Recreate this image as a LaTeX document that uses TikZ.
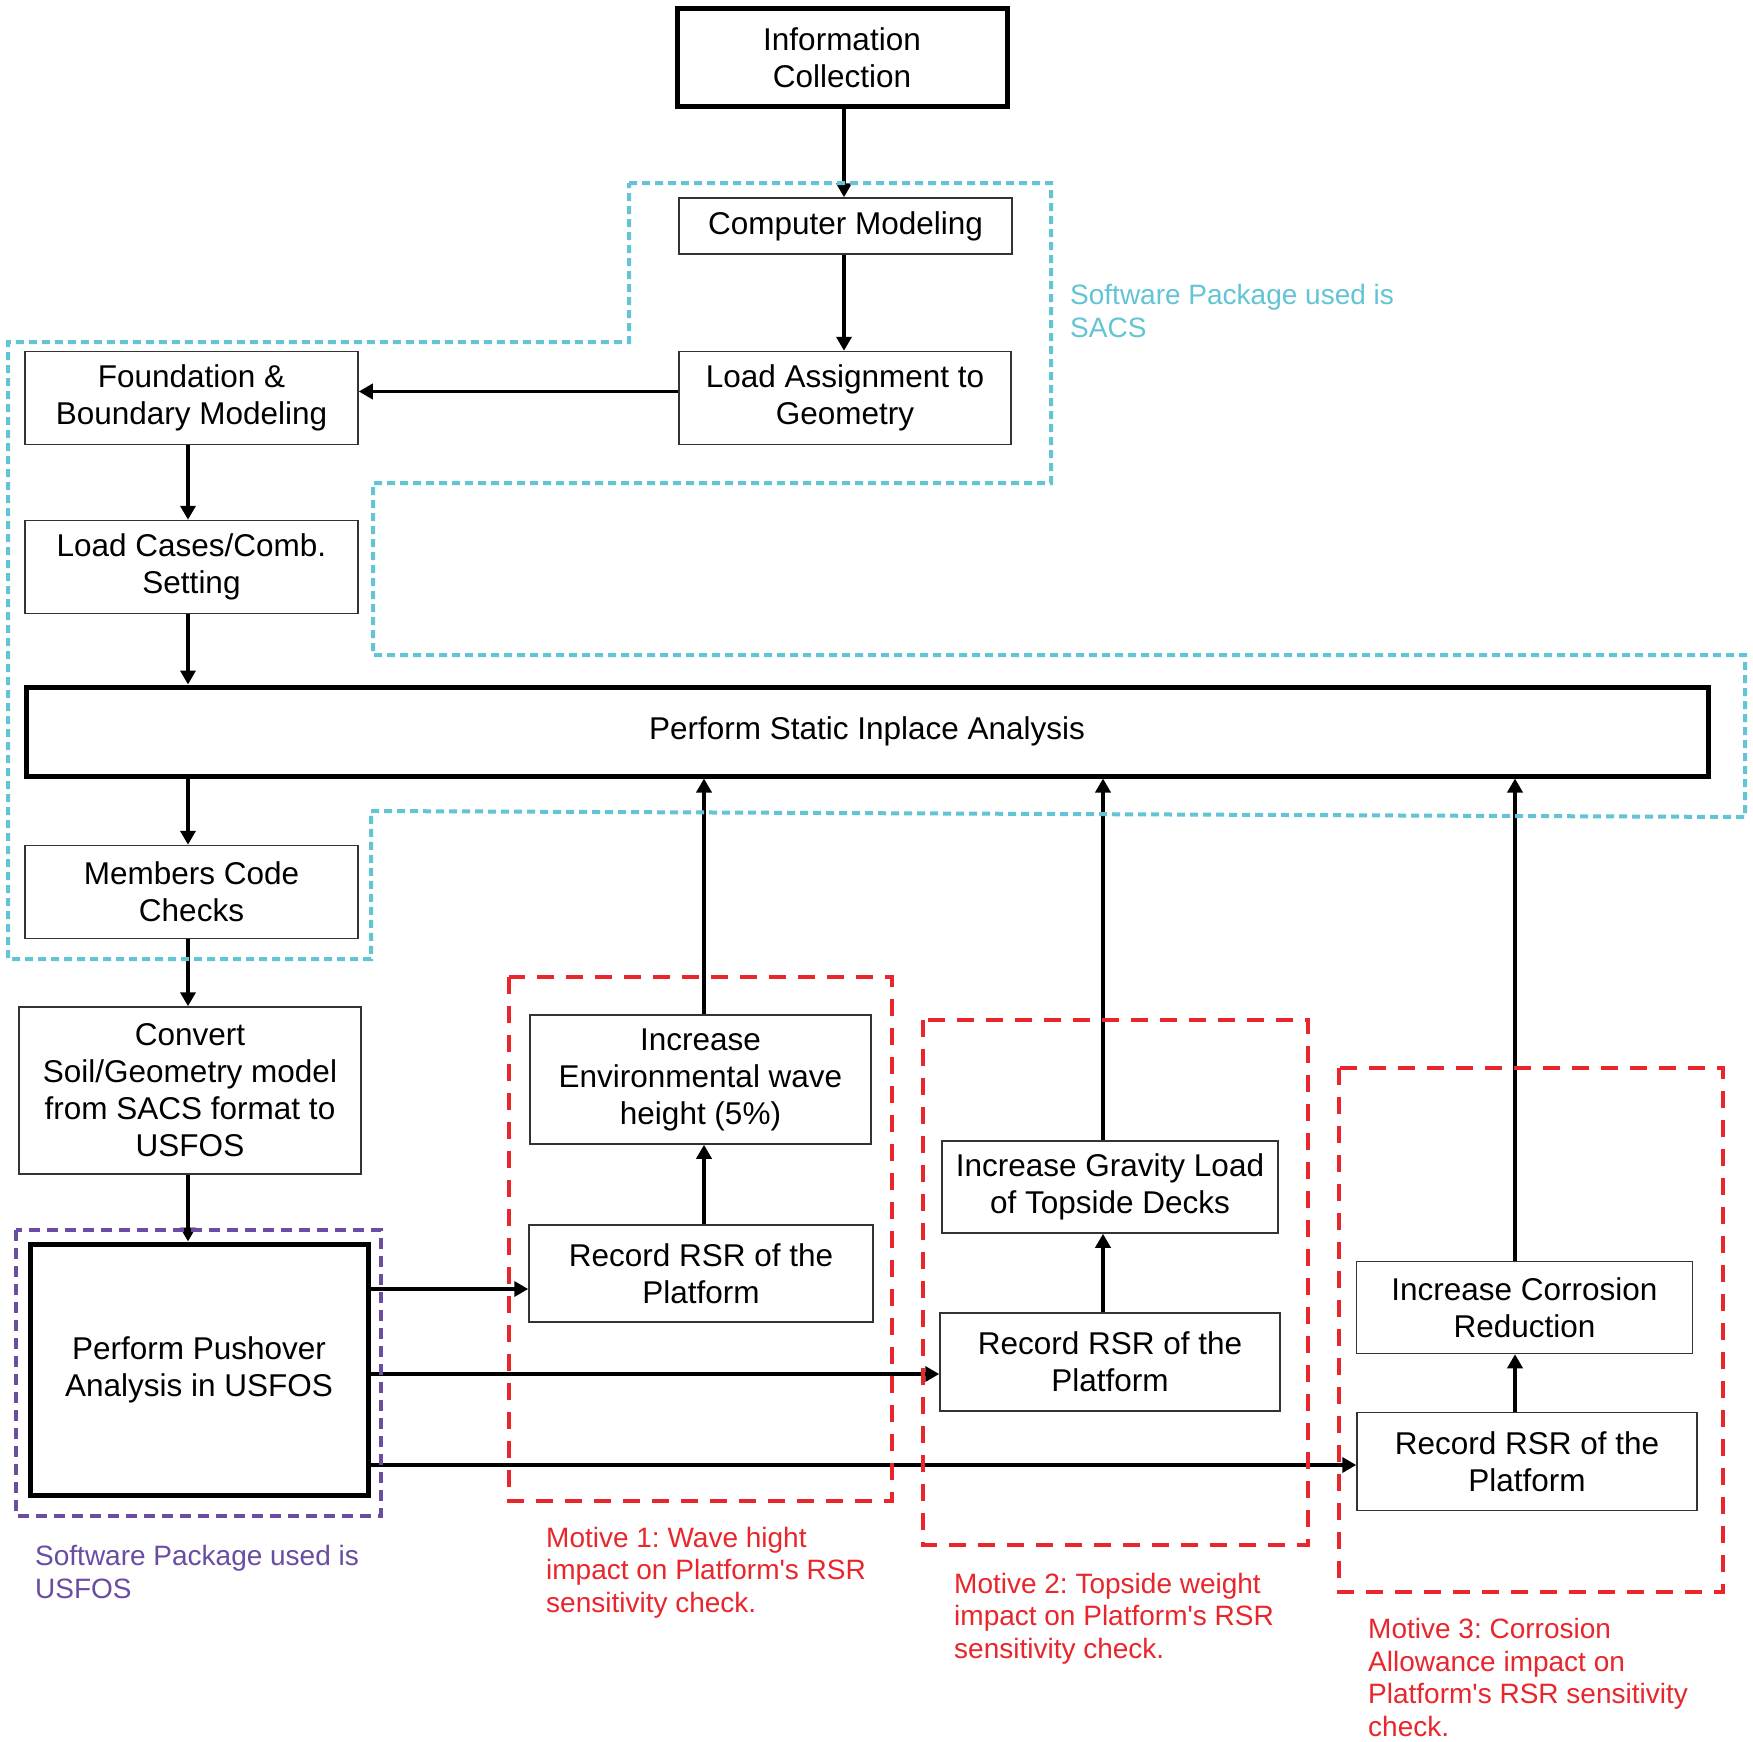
\documentclass[tikz,border=0pt]{standalone}
\usepackage{fontspec}
\setmainfont{Liberation Sans}
\usetikzlibrary{arrows.meta}
\definecolor{cyanline}{HTML}{62C4D4}
\definecolor{redline}{HTML}{E8262B}
\definecolor{purpleline}{HTML}{6A4DA3}
\frenchspacing
\begin{document}
\begin{tikzpicture}[x=1pt,y=-1pt,
  box/.style={draw=black!80, line width=1.5pt, fill=white, align=center, inner sep=0pt, font=\fontsize{31.5}{37}\selectfont},
  thickbox/.style={box, draw=black, line width=5pt},
  arr/.style={line width=3.5pt, -{Triangle[length=14pt,width=15pt]}},
  lbl/.style={anchor=base west, align=left, inner sep=0pt, font=\fontsize{28}{32.5}\selectfont\frenchspacing},
  cyanframe/.style={cyanline, line width=4pt, dash pattern=on 8pt off 5pt},
  redframe/.style={redline, line width=4pt, dash pattern=on 17pt off 12pt},
  purpleframe/.style={purpleline, line width=4pt, dash pattern=on 11pt off 7pt},
]
\useasboundingbox[fill=white] (0,0) rectangle (1753,1742);

% nodes
\node[thickbox, minimum width=330pt, minimum height=98pt] (info) at (842,57.5) {Information\\Collection};
\node[box, minimum width=333pt, minimum height=56pt] (comp) at (845.5,226) {Computer Modeling};
\node[box, minimum width=332pt, minimum height=93pt] (la) at (845,398) {Load Assignment to\\Geometry};
\node[box, minimum width=333pt, minimum height=93pt] (fb) at (191.5,398) {Foundation \&\\Boundary Modeling};
\node[box, minimum width=333pt, minimum height=93pt] (lc) at (191.5,567) {Load Cases/Comb.\\Setting};
\node[thickbox, minimum width=1682pt, minimum height=89pt] (st) at (867,731.5) {Perform Static Inplace Analysis};
\node[box, minimum width=333pt, minimum height=93pt] (mc) at (191.5,892) {Members Code\\Checks};
\node[box, minimum width=342pt, minimum height=167pt] (cv) at (190,1090.5) {Convert\\Soil/Geometry model\\from SACS format to\\USFOS};
\node[thickbox, minimum width=338pt, minimum height=251pt] (po) at (199,1369.5) {Perform Pushover\\Analysis in USFOS};
\node[box, minimum width=341pt, minimum height=129pt] (ie) at (700.5,1079.5) {Increase\\Environmental wave\\height (5\%)};
\node[box, minimum width=344pt, minimum height=97pt] (r1) at (701,1273.5) {Record RSR of the\\Platform};
\node[box, minimum width=336pt, minimum height=92pt] (ig) at (1110,1187) {Increase Gravity Load\\of Topside Decks};
\node[box, minimum width=340pt, minimum height=98pt] (r2) at (1110,1362) {Record RSR of the\\Platform};
\node[box, minimum width=336pt, minimum height=92pt] (ic) at (1524.5,1307.5) {Increase Corrosion\\Reduction};
\node[box, minimum width=340pt, minimum height=98pt] (r3) at (1527,1461.5) {Record RSR of the\\Platform};

% helper coordinates
\coordinate (ca) at (844,0);
\coordinate (cl) at (188,0);
\coordinate (c1) at (704,0);
\coordinate (c2) at (1103,0);
\coordinate (c3) at (1515,0);
\coordinate (h1) at (0,1289);
\coordinate (h2) at (0,1374);
\coordinate (h3) at (0,1465);

% connectors
\draw[arr] (info.south -| ca) -- (comp.north -| ca);
\draw[arr] (comp.south -| ca) -- (la.north -| ca);
\draw[arr] ([yshift=6.5pt]la.west) -- ([yshift=6.5pt]fb.east);
\draw[arr] (fb.south -| cl) -- (lc.north -| cl);
\draw[arr] (lc.south -| cl) -- (st.north -| cl);
\draw[arr] (st.south -| cl) -- (mc.north -| cl);
\draw[arr] (mc.south -| cl) -- (cv.north -| cl);
\draw[arr] (cv.south -| cl) -- (po.north -| cl);
\draw[arr] (po.east |- h1) -- (r1.west |- h1);
\draw[arr] (po.east |- h2) -- (r2.west |- h2);
\draw[arr] (po.east |- h3) -- (r3.west |- h3);
\draw[arr] (r1.north -| c1) -- (ie.south -| c1);
\draw[arr] (ie.north -| c1) -- (st.south -| c1);
\draw[arr] (r2.north -| c2) -- (ig.south -| c2);
\draw[arr] (ig.north -| c2) -- (st.south -| c2);
\draw[arr] (r3.north -| c3) -- (ic.south -| c3);
\draw[arr] (ic.north -| c3) -- (st.south -| c3);

% frames
\draw[cyanframe] (629,183) -- (1051,183) -- (1051,483) -- (373,483) -- (373,655) -- (1745,655) -- (1745,817) -- (371,811) -- (371,959) -- (8,959) -- (8,342) -- (629,342) -- cycle;
\draw[redframe] (509,977) rectangle (892,1501);
\draw[redframe] (923,1020) rectangle (1308,1545);
\draw[redframe] (1339,1068) rectangle (1723,1592);
\draw[purpleframe] (16,1230) rectangle (381,1516);

% labels (base anchor = baseline of last line)
\node[lbl, text=cyanline] (sacs) at (1070,337) {Software Package used is\\SACS};
\node[lbl, text=purpleline] (usf) at (35,1598) {Software Package used is\\USFOS};
\node[lbl, text=redline] (m1) at (546,1612) {Motive 1: Wave hight\\impact on Platform\textquotesingle s RSR\\sensitivity check.};
\node[lbl, text=redline] (m2) at (954,1658) {Motive 2: Topside weight\\impact on Platform\textquotesingle s RSR\\sensitivity check.};
\node[lbl, text=redline] (m3) at (1368,1736) {Motive 3: Corrosion\\Allowance impact on\\Platform\textquotesingle s RSR sensitivity\\check.};
\end{tikzpicture}
\end{document}
